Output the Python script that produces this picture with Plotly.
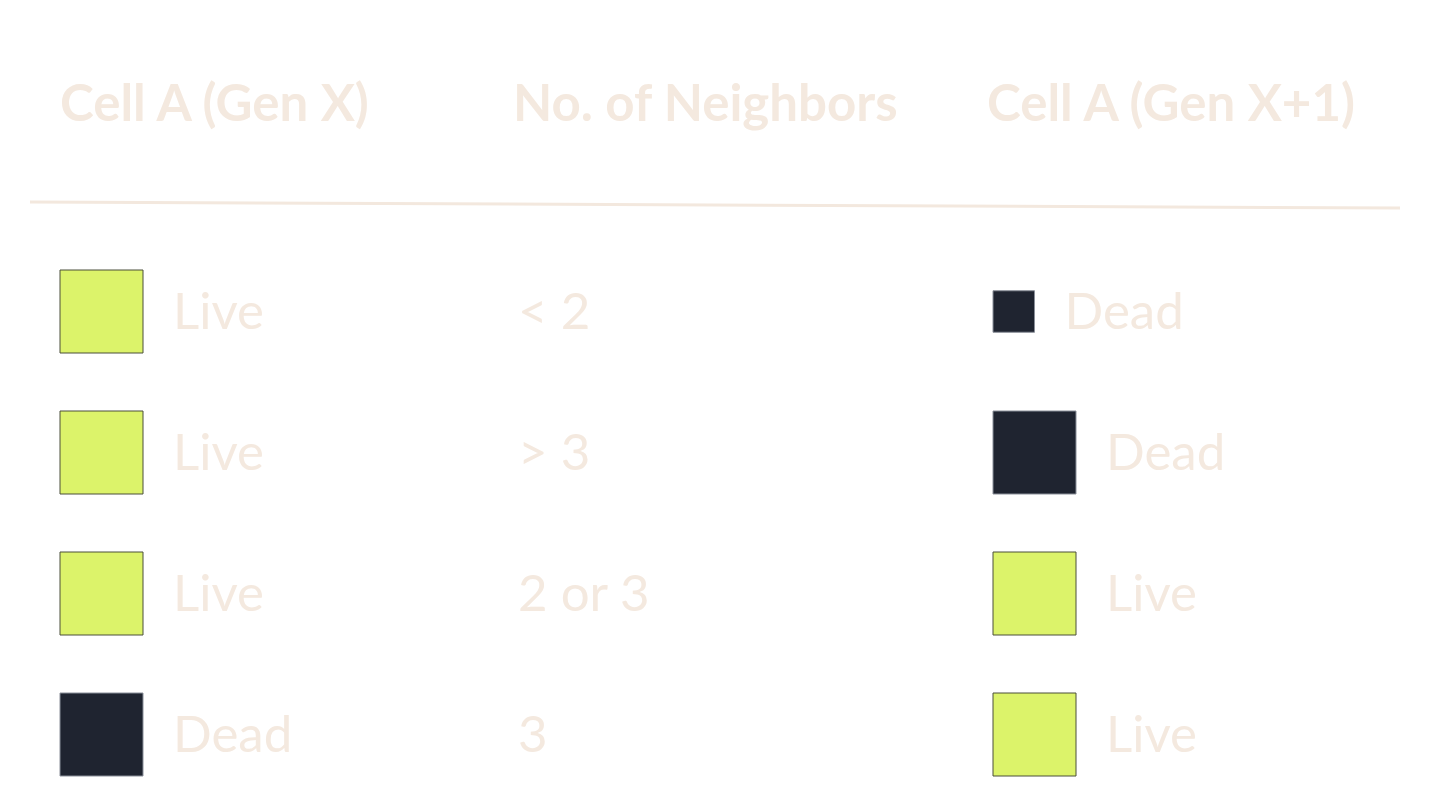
import plotly.graph_objects as go

# table content
headers = ['Cell A (Gen X)', 'No. of Neighbors', 'Cell A (Gen X+1)']
gen_x = ['Live', 'Live', 'Live', 'Dead']
neighbors = ['< 2', '> 3', '2 or 3', '3']
gen_next = ['Dead', 'Dead', 'Live', 'Live']
gen_next_scale = [0.5, 1, 1, 1]  # first square drawn at half size

LIVE = '#dcf36a'
DEAD = '#1f2430'
TEXT = '#f4e9df'
FONT = 'Lato'

W, H = 1431, 807
PAD = 8  # page body margin around the plot div
SQ = 83
row_y = [311.5 + i * 141 for i in range(len(gen_x))]
text_y = [y + 4.5 for y in row_y]
col_left = [60, 520, 993]
gap = 30


def color(state):
    return LIVE if state == 'Live' else DEAD


def edge(state):
    return '#4b4f3a' if state == 'Live' else '#8a8f99'


fig = go.Figure()

# header titles
fig.add_trace(go.Scatter(
    x=[60, 513, 987], y=[108] * 3, mode='text', text=headers,
    textposition='middle right',
    textfont=dict(family=FONT, size=51, color=TEXT, weight='bold'),
    hoverinfo='skip'))

# divider under header
fig.add_trace(go.Scatter(
    x=[30, 1400], y=[202, 208], mode='lines',
    line=dict(color='#f3e8de', width=3), hoverinfo='skip'))

# column 1: squares + labels
fig.add_trace(go.Scatter(
    x=[col_left[0] + SQ / 2] * 4, y=row_y, mode='markers',
    marker=dict(symbol='square', size=SQ, opacity=1,
                color=[color(s) for s in gen_x],
                line=dict(color=[edge(s) for s in gen_x], width=1)),
    hoverinfo='skip'))
fig.add_trace(go.Scatter(
    x=[col_left[0] + SQ + gap] * 4, y=text_y, mode='text', text=gen_x,
    textposition='middle right',
    textfont=dict(family=FONT, size=51, color=TEXT), hoverinfo='skip'))

# column 2: neighbor counts
fig.add_trace(go.Scatter(
    x=[col_left[1] - 2] * 4, y=text_y, mode='text', text=neighbors,
    textposition='middle right',
    textfont=dict(family=FONT, size=51, color=TEXT), hoverinfo='skip'))

# column 3: next generation
sizes = [SQ * k for k in gen_next_scale]
fig.add_trace(go.Scatter(
    x=[col_left[2] + s / 2 for s in sizes], y=row_y, mode='markers',
    marker=dict(symbol='square', size=sizes, opacity=1,
                color=[color(s) for s in gen_next],
                line=dict(color=[edge(s) for s in gen_next], width=1)),
    hoverinfo='skip'))
fig.add_trace(go.Scatter(
    x=[col_left[2] + s + gap for s in sizes], y=text_y, mode='text', text=gen_next,
    textposition='middle right',
    textfont=dict(family=FONT, size=51, color=TEXT), hoverinfo='skip'))

fig.update_layout(
    width=W - 2 * PAD, height=H - 2 * PAD, margin=dict(l=0, r=0, t=0, b=0),
    paper_bgcolor='white', plot_bgcolor='white', showlegend=False,
    xaxis=dict(range=[PAD, W - PAD], visible=False, fixedrange=True),
    yaxis=dict(range=[H - PAD, PAD], visible=False, fixedrange=True),
)

fig.write_html("out.html")
